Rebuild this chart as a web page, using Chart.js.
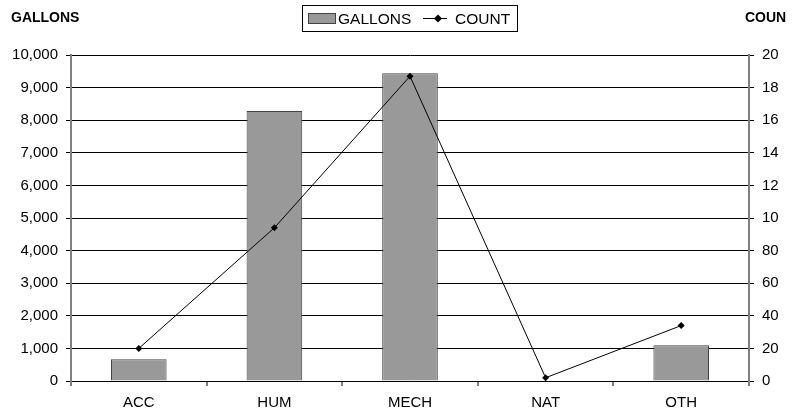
<!DOCTYPE html>
<html>
<head>
<meta charset="utf-8">
<script src="https://cdn.jsdelivr.net/npm/chart.js@4/dist/chart.umd.min.js"></script>
<style>
  html, body { margin: 0; padding: 0; background: #ffffff; overflow: hidden; }
  #wrap { width: 793px; height: 415px; position: relative; }
</style>
</head>
<body>
<div id="wrap"><canvas id="c" width="793" height="415"></canvas></div>
<script>
const categories = ['ACC', 'HUM', 'MECH', 'NAT', 'OTH'];
const gallons = [670, 8280, 9440, 0, 1100];
const counts = [20, 94, 187, 2, 34];
const leftTitle = 'GALLONS';
const rightTitle = 'COUNT';

const FONT = "'Liberation Sans', Arial, sans-serif";

const overlay = {
  id: 'overlay',
  beforeDraw(chart) {
    const ctx = chart.ctx;
    ctx.save();
    ctx.beginPath();
    ctx.rect(0, 0, 779, chart.height);
    ctx.clip();
  },
  afterDraw(chart) {
    const ctx = chart.ctx;
    ctx.restore();
    ctx.save();
    // axis titles
    ctx.fillStyle = '#000';
    ctx.font = 'bold 14px ' + FONT;
    ctx.textBaseline = 'alphabetic';
    ctx.textAlign = 'left';
    ctx.fillText(leftTitle, 11, 22);
    ctx.save();
    ctx.beginPath();
    ctx.rect(0, 0, 786, 40);
    ctx.clip();
    ctx.fillText(rightTitle, 745, 22);
    ctx.restore();
    // legend
    const barDs = chart.data.datasets[0];
    const lineDs = chart.data.datasets[1];
    ctx.strokeStyle = '#000';
    ctx.lineWidth = 1;
    ctx.strokeRect(302.5, 5.5, 215, 26);
    ctx.fillStyle = '#999999';
    ctx.fillRect(308, 13, 28, 11);
    ctx.strokeStyle = '#444';
    ctx.strokeRect(308.5, 13.5, 27, 10);
    ctx.fillStyle = '#000';
    ctx.font = '15.5px ' + FONT;
    ctx.fillText(barDs.label, 338, 24);
    ctx.strokeStyle = '#000';
    ctx.beginPath();
    ctx.moveTo(423, 18.5);
    ctx.lineTo(447, 18.5);
    ctx.stroke();
    ctx.beginPath();
    ctx.moveTo(438, 14.5);
    ctx.lineTo(442, 18.5);
    ctx.lineTo(438, 22.5);
    ctx.lineTo(434, 18.5);
    ctx.closePath();
    ctx.fill();
    ctx.fillText(lineDs.label, 455, 24);
    ctx.restore();
  }
};

new Chart(document.getElementById('c'), {
  data: {
    labels: categories,
    datasets: [
      {
        type: 'bar',
        label: 'GALLONS',
        data: gallons,
        yAxisID: 'y',
        backgroundColor: '#999999',
        borderColor: '#444444',
        borderWidth: 1,
        barPercentage: 0.41,
        categoryPercentage: 1.0,
        order: 1
      },
      {
        type: 'line',
        label: 'COUNT',
        data: counts,
        yAxisID: 'y1',
        borderColor: '#000',
        backgroundColor: '#000',
        borderWidth: 1,
        pointStyle: 'rectRot',
        pointRadius: 3.5,
        pointBorderWidth: 0,
        tension: 0,
        order: 0
      }
    ]
  },
  options: {
    responsive: false,
    animation: false,
    layout: { padding: { top: 55, left: 0, right: 0, bottom: 0 } },
    plugins: { legend: { display: false }, tooltip: { enabled: false } },
    scales: {
      x: {
        offset: true,
        grid: { display: true, offset: true, drawOnChartArea: false, drawTicks: true, tickLength: 5, tickColor: '#808080', lineWidth: 2 },
        border: { display: true, color: '#000', width: 1 },
        ticks: { color: '#000', font: { family: FONT, size: 15 }, padding: 8, maxRotation: 0 },
        afterFit(scale) { scale.height = 34; }
      },
      y: {
        position: 'left',
        min: 0, max: 10000,
        ticks: { stepSize: 1000, color: '#000', font: { family: FONT, size: 15 }, padding: 8,
          callback: v => Number(v).toLocaleString('en-US') },
        grid: { color: '#000', lineWidth: 1, tickLength: 5, tickColor: '#000' },
        border: { display: true, color: '#808080', width: 2 },
        afterFit(scale) { scale.width = 71; }
      },
      y1: {
        position: 'right',
        min: 0, max: 200,
        ticks: { stepSize: 20, color: '#000', font: { family: FONT, size: 15 }, padding: 8 },
        grid: { drawOnChartArea: false, tickLength: 5, tickColor: '#000' },
        border: { display: true, color: '#808080', width: 2 },
        afterFit(scale) { scale.width = 44; }
      }
    }
  },
  plugins: [overlay]
});
</script>
</body>
</html>
